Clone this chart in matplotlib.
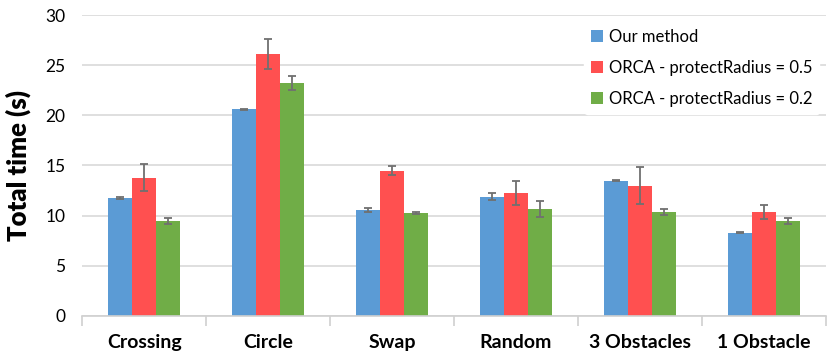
import matplotlib
matplotlib.use('Agg')
import matplotlib.pyplot as plt
import numpy as np

plt.rcParams['font.family'] = ['Lato', 'DejaVu Sans']

categories = ['Crossing', 'Circle', 'Swap', 'Random', '3 Obstacles', '1 Obstacle']
labels = ['Our method', 'ORCA - protectRadius = 0.5', 'ORCA - protectRadius = 0.2']

ours = [11.8, 20.6, 10.6, 11.9, 13.5, 8.3]
ours_err = [0.1, 0.02, 0.2, 0.33, 0.03, 0.03]
orca05 = [13.8, 26.1, 14.5, 12.3, 13.0, 10.4]
orca05_err = [1.3, 1.5, 0.45, 1.2, 1.85, 0.7]
orca02 = [9.5, 23.2, 10.3, 10.7, 10.4, 9.5]
orca02_err = [0.3, 0.7, 0.1, 0.8, 0.3, 0.3]

colors = ['#5B9BD5', '#FF5050', '#70AD47']

fig = plt.figure(figsize=(8.3, 3.59), dpi=100)
ax = fig.add_axes([0.099, 0.12, 0.896, 0.838])

x = np.arange(len(categories))
w = 0.194
series = [(ours, ours_err), (orca05, orca05_err), (orca02, orca02_err)]
for i, (vals, errs) in enumerate(series):
    ax.bar(x + (i - 1) * w, vals, w, color=colors[i], label=labels[i], zorder=2,
           yerr=errs, error_kw=dict(ecolor='#707070', elinewidth=1.3, capsize=3, capthick=1.3))

ax.set_xlim(-0.5, len(categories) - 0.5)
ax.set_ylim(0, 30)
ax.set_yticks([0, 5, 10, 15, 20, 25, 30])
ax.yaxis.grid(True, color='#D9D9D9', linewidth=1.2, zorder=0)
ax.set_axisbelow(True)

for s in ['top', 'right', 'left']:
    ax.spines[s].set_visible(False)
ax.spines['bottom'].set_color('#D0D0D0')
ax.spines['bottom'].set_linewidth(1.2)

ax.set_xticks(x)
ax.set_xticklabels(categories, fontsize=14, fontweight='bold')
ax.set_xticks(np.arange(-0.5, len(categories)), minor=True)
ax.tick_params(axis='x', which='major', length=0, pad=13)
ax.tick_params(axis='x', which='minor', length=7, color='#D0D0D0', width=1.2)
ax.tick_params(axis='y', length=0, labelsize=12.5, pad=12)

ax.set_ylabel('Total time (s)', fontsize=18.5, fontweight='heavy', labelpad=10)

leg = ax.legend(loc='upper right', bbox_to_anchor=(0.998, 0.993), frameon=True, fontsize=12,
                handlelength=0.7, handleheight=0.7, handletextpad=0.4, labelspacing=0.9,
                borderaxespad=0.3)
leg.get_frame().set_facecolor('white')
leg.get_frame().set_edgecolor('white')
leg.get_frame().set_alpha(1)

fig.savefig('out.png', dpi=100)
